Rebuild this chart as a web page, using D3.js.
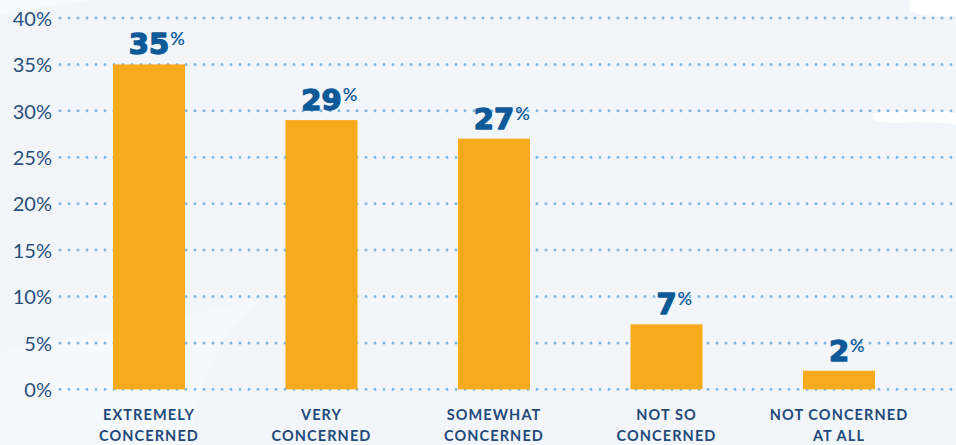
<!DOCTYPE html>
<html>
<head>
<meta charset="utf-8">
<script src="https://cdn.jsdelivr.net/npm/d3@7"></script>
<style>
  html, body { margin: 0; padding: 0; background: #f2f6fb; }
  svg { display: block; }
</style>
</head>
<body>
<svg id="chart" width="956" height="445"></svg>
<script>
// Survey responses: level of concern
const categories = [
  ["EXTREMELY", "CONCERNED"],
  ["VERY", "CONCERNED"],
  ["SOMEWHAT", "CONCERNED"],
  ["NOT SO", "CONCERNED"],
  ["NOT CONCERNED", "AT ALL"]
];
const values = [35, 29, 27, 7, 2];
const yTicks = [0, 5, 10, 15, 20, 25, 30, 35, 40];

const W = 956, H = 445;
const svg = d3.select("#chart");

// soft map-like backdrop
const bg = svg.append("g");
bg.append("rect").attr("width", W).attr("height", H).attr("fill", "#f2f6fb");
bg.append("path")
  .attr("d", "M0,352 C60,340 150,322 245,303 L260,300 C230,330 200,360 190,445 L0,445 Z")
  .attr("fill", "#f6f9fc");
bg.append("path")
  .attr("d", "M0,0 L95,0 C60,4 25,9 0,14 Z")
  .attr("fill", "#f7fafd");
bg.append("path")
  .attr("d", "M910,0 L956,0 L956,16 C940,17 925,16 912,12 C908,8 909,4 910,0 Z")
  .attr("fill", "#ffffff");
bg.append("path")
  .attr("d", "M872,114 C885,110 905,111 925,112 C940,110 950,111 956,113 L956,125 C948,122 935,123 915,122 C900,124 885,123 873,120 Z")
  .attr("fill", "#ffffff");

const y = d3.scaleLinear().domain([0, 40]).range([389.3, 18]);
const x = d3.scaleBand()
  .domain(d3.range(categories.length))
  .range([113, 875])
  .paddingInner(0.5826)
  .paddingOuter(0);

// dotted gridlines
svg.append("g")
  .selectAll("line")
  .data(yTicks)
  .join("line")
  .attr("x1", 60).attr("x2", W)
  .attr("y1", d => y(d)).attr("y2", d => y(d))
  .attr("stroke", "#7db8e1")
  .attr("stroke-width", 3)
  .attr("stroke-linecap", "round")
  .attr("stroke-dasharray", "0 9");

// y axis labels
const yAxis = d3.axisLeft(y).tickValues(yTicks).tickFormat(d => d + "%").tickSize(0).tickPadding(0);
const yg = svg.append("g").attr("transform", "translate(52,0)").call(yAxis);
yg.select(".domain").remove();
yg.selectAll("text")
  .attr("font-family", "Lato, 'Open Sans', sans-serif")
  .attr("font-size", 20)
  .attr("fill", "#2a4f7c")
  .attr("dy", "0.36em");

// bars
svg.append("g")
  .selectAll("rect")
  .data(values)
  .join("rect")
  .attr("x", (d, i) => x(i))
  .attr("y", d => y(d))
  .attr("width", x.bandwidth())
  .attr("height", d => y(0) - y(d))
  .attr("fill", "#f8aa1d");

// value labels with raised percent sign
const vl = svg.append("g");
values.forEach((v, i) => {
  const cx = x(i) + x.bandwidth() / 2;
  const base = y(v) - 10;
  const num = vl.append("text")
    .attr("x", cx).attr("y", base)
    .attr("text-anchor", "middle")
    .attr("font-family", "'DejaVu Sans', sans-serif")
    .attr("font-weight", 700)
    .attr("font-size", 29)
    .attr("fill", "#0e5a98")
    .attr("stroke", "#0e5a98")
    .attr("stroke-width", 1.4)
    .attr("stroke-linejoin", "round")
    .text(v);
  const w = num.node().getComputedTextLength();
  vl.append("text")
    .attr("x", cx + w / 2 + 1).attr("y", base - 9)
    .attr("font-family", "Lato, 'Open Sans', sans-serif")
    .attr("font-weight", 600)
    .attr("font-size", 18)
    .attr("fill", "#0e5a98")
    .text("%");
});

// category labels
const cl = svg.append("g");
categories.forEach((lines, i) => {
  const cx = x(i) + x.bandwidth() / 2;
  const t = cl.append("text")
    .attr("text-anchor", "middle")
    .attr("font-family", "Lato, 'Open Sans', sans-serif")
    .attr("font-weight", 700)
    .attr("font-size", 14.5)
    .attr("letter-spacing", 1.1)
    .attr("fill", "#1f4a7a");
  lines.forEach((ln, j) => {
    t.append("tspan").attr("x", cx).attr("y", 420 + j * 21).text(ln);
  });
});
</script>
</body>
</html>
